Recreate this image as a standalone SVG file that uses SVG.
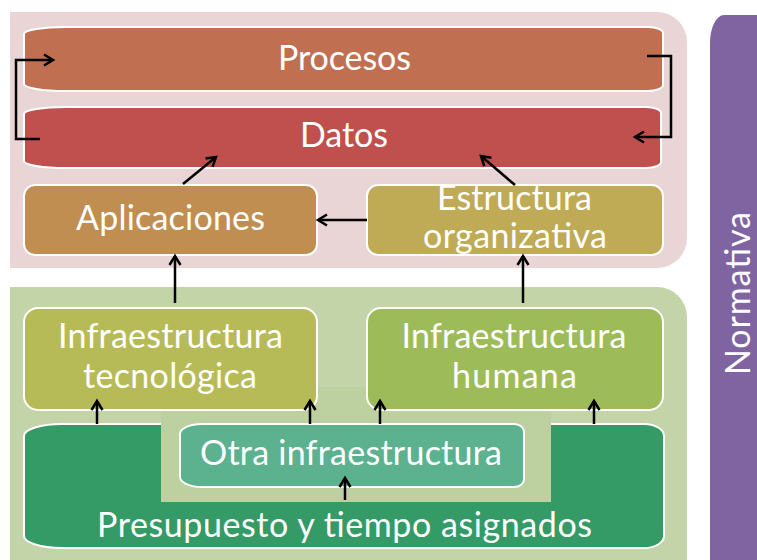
<svg xmlns="http://www.w3.org/2000/svg" width="757" height="560" viewBox="0 0 757 560">
<defs>
<style>
.lbl{font-family:Lato,"Open Sans","Liberation Sans",sans-serif;font-size:34px;fill:#fff;text-anchor:middle}
.sh{stroke:#fff;stroke-width:2}
.cn{fill:none;stroke:#000;stroke-width:2.5;marker-end:url(#ah)}
</style>
<marker id="ah" markerUnits="userSpaceOnUse" markerWidth="16" markerHeight="16" refX="11" refY="8" orient="auto">
<path d="M2,2.5 L11,8 L2,13.5" fill="none" stroke="#000" stroke-width="2.5"/>
</marker>
</defs>
<rect width="757" height="560" fill="#fff"/>
<g id="container-top">
<path d="M10,12 H657 A30,30 0 0 1 687,42 V238 A30,30 0 0 1 657,268 H10 Z" fill="#E9D5D5"/>
</g>
<g id="container-bottom">
<path d="M10,287 H657 A30,30 0 0 1 687,317 V560 H10 Z" fill="#C3D5A8"/>
</g>
<g id="normativa">
<path d="M757,15 H724 A14,28 0 0 0 710,43 V560 H757 Z" fill="#8064A2"/>
<text class="lbl" transform="translate(750,293.5) rotate(-90)" textLength="163" lengthAdjust="spacing">Normativa</text>
</g>
<g id="procesos">
<path class="sh" d="M66,27 H648 A15,6 0 0 1 663,33 V85 A15,6 0 0 1 648,91 H66 A42,7 0 0 1 24,84 V34 A42,7 0 0 1 66,27 Z" fill="#C07050"/>
<text class="lbl" x="344.5" y="70" textLength="133" lengthAdjust="spacing">Procesos</text>
</g>
<g id="datos">
<path class="sh" d="M66,107 H646 A15,6 0 0 1 661,113 V162 A15,6 0 0 1 646,168 H66 A42,7 0 0 1 24,161 V114 A42,7 0 0 1 66,107 Z" fill="#C0504D"/>
<text class="lbl" x="344" y="147" textLength="88" lengthAdjust="spacing">Datos</text>
</g>
<g id="aplicaciones">
<rect class="sh" x="24" y="185" width="293" height="70" rx="11" fill="#C08E50"/>
<text class="lbl" x="170.5" y="230" textLength="189" lengthAdjust="spacing">Aplicaciones</text>
</g>
<g id="estructura">
<rect class="sh" x="367" y="185" width="296" height="70" rx="11" fill="#BFAA55"/>
<text class="lbl" x="514.5" y="210" textLength="155" lengthAdjust="spacing">Estructura</text>
<text class="lbl" x="515" y="248" textLength="184" lengthAdjust="spacing">organizativa</text>
</g>
<g id="presupuesto">
<path class="sh" d="M62,424 H644 A20,12 0 0 1 664,436 V536 A20,12 0 0 1 644,548 H62 A38,12 0 0 1 24,536 V436 A38,12 0 0 1 62,424 Z" fill="#349A66"/>
<text class="lbl" x="344.5" y="537" textLength="495" lengthAdjust="spacing">Presupuesto y tiempo asignados</text>
</g>
<g id="notch">
<rect x="161" y="387" width="390" height="115" fill="#BDD09F"/>
</g>
<g id="infra-tec">
<rect class="sh" x="24" y="308" width="293" height="102" rx="14" fill="#B6BB57"/>
<text class="lbl" x="170.5" y="348" textLength="225" lengthAdjust="spacing">Infraestructura</text>
<text class="lbl" x="170" y="388" textLength="174" lengthAdjust="spacing">tecnológica</text>
</g>
<g id="infra-hum">
<rect class="sh" x="367" y="308" width="296" height="102" rx="14" fill="#9EBB59"/>
<text class="lbl" x="514" y="348" textLength="225" lengthAdjust="spacing">Infraestructura</text>
<text class="lbl" x="514.5" y="388" textLength="125" lengthAdjust="spacing">humana</text>
</g>
<g id="otra">
<path class="sh" d="M202,424 H514 A10,8 0 0 1 524,432 V479 A10,8 0 0 1 514,487 H202 A22,10 0 0 1 180,477 V434 A22,10 0 0 1 202,424 Z" fill="#5CB28F"/>
<text class="lbl" x="351" y="465" textLength="302" lengthAdjust="spacing">Otra infraestructura</text>
</g>
<g id="connectors">
<polyline class="cn" points="40,139 16,139 16,60 53,60"/>
<polyline class="cn" points="647,56 671,56 671,137 635,137"/>
<line class="cn" x1="183" y1="184" x2="216" y2="157"/>
<line class="cn" x1="515" y1="185" x2="481" y2="156"/>
<line class="cn" x1="367" y1="220" x2="318" y2="220"/>
<line class="cn" x1="175" y1="303" x2="175" y2="256"/>
<line class="cn" x1="523" y1="303" x2="523" y2="256"/>
<line class="cn" x1="97" y1="424" x2="97" y2="401"/>
<line class="cn" x1="310" y1="424" x2="310" y2="401"/>
<line class="cn" x1="380" y1="424" x2="380" y2="401"/>
<line class="cn" x1="594" y1="424" x2="594" y2="401"/>
<line class="cn" x1="345" y1="500" x2="345" y2="478"/>
</g>
</svg>
